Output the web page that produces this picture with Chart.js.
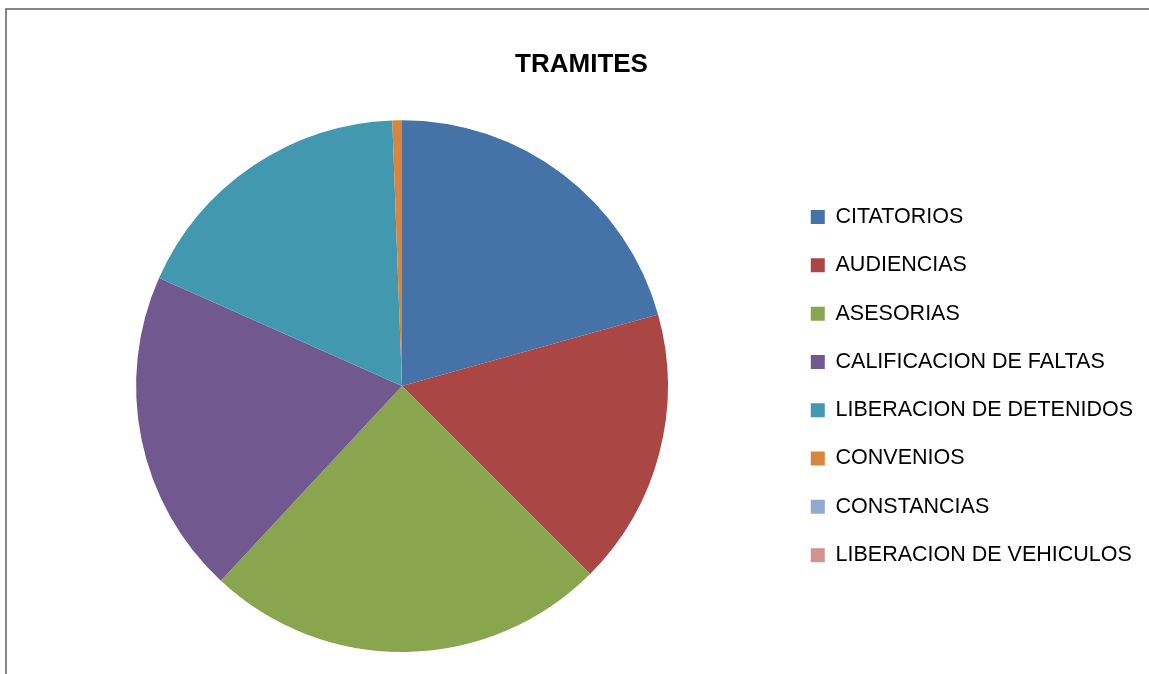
<!DOCTYPE html>
<html>
<head>
<meta charset="utf-8">
<script src="https://cdn.jsdelivr.net/npm/chart.js@4/dist/chart.umd.min.js"></script>
<style>
    html, body { margin: 0; padding: 0; background: #fff; }
    #frame {
        position: absolute; left: 5px; top: 8px; width: 1200px; height: 700px;
        border: 2px solid #868686; box-sizing: border-box;
    }
    #wrap { position: absolute; left: 0; top: 0; width: 1149px; height: 674px; }
</style>
</head>
<body>
<div id="frame"></div>
<div id="wrap"><canvas id="myChart"></canvas></div>
<script>
// datos del grafico
const categorias = ['CITATORIOS', 'AUDIENCIAS', 'ASESORIAS', 'CALIFICACION DE FALTAS',
    'LIBERACION DE DETENIDOS', 'CONVENIOS', 'CONSTANCIAS', 'LIBERACION DE VEHICULOS'];
const valores = [356, 290, 421, 340, 306, 10, 0, 0];
const colores = ['#4572A7', '#AA4643', '#89A54E', '#71588F', '#4198AF', '#DB843D', '#93A9CF', '#D19392'];

const ctx = document.getElementById('myChart');

new Chart(ctx, {
    type: 'pie',
    data: {
        labels: categorias,
        datasets: [{
                data: valores,
                backgroundColor: colores,
                borderWidth: 0
            }]
    },
    options: {
        responsive: true,
        maintainAspectRatio: false,
        animation: false,
        layout: {
            padding: {left: 20, right: 6, top: 0, bottom: 22}
        },
        plugins: {
            title: {
                display: true,
                text: 'TRAMITES',
                color: '#000',
                font: {family: 'Liberation Sans', size: 26, weight: 'bold'},
                padding: {top: 49, bottom: 40}
            },
            legend: {
                position: 'right',
                fullSize: false,
                labels: {
                    color: '#000',
                    font: {family: 'Liberation Sans', size: 21.5},
                    boxWidth: 14,
                    boxHeight: 14,
                    padding: 26.8
                }
            },
            tooltip: {enabled: false}
        }
    }
});
</script>
</body>
</html>
